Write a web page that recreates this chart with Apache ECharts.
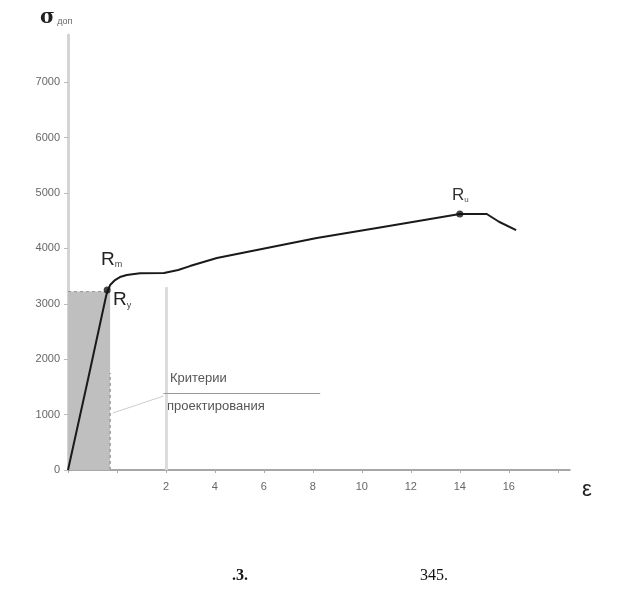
<!DOCTYPE html>
<html><head><meta charset="utf-8">
<script src="https://cdn.jsdelivr.net/npm/echarts@6/dist/echarts.min.js"></script>
<style>html,body{margin:0;padding:0;background:#fff}#c{width:627px;height:590px}</style>
</head><body><div id="c"></div>
<script>
const strain = [0, 0.4, 0.78, 0.82, 0.86, 0.96, 1.06, 1.2, 1.47, 1.96, 2.5, 2.98, 4.08, 6.12, 8.16, 10.86, 14.0, 15.1, 15.6, 16.3];
const stress = [0, 1600, 3150, 3250, 3338, 3428, 3482, 3518, 3550, 3555, 3610, 3680, 3825, 4005, 4185, 4384, 4620, 4620, 4480, 4330];
const yTicks = [0, 1000, 2000, 3000, 4000, 5000, 6000, 7000];
const xTickLabels = [2, 4, 6, 8, 10, 12, 14, 16];
const keyPoints = [
  {name: 'Ry', e: 0.8, s: 3250},
  {name: 'Ru', e: 14.0, s: 4620}
];
const shadeStrain = 0.86, shadeStress = 3220;
const criterionStrain = 2, criterionStress = 3300;

// broken-scale axis: 0..2 % drawn at double scale, beyond that 2 % per unit
function toPos(e) { return e <= 2 ? e : 2 + (e - 2) / 2; }
function posLabel(v) { const e = v <= 2 ? v : 2 + (v - 2) * 2; return xTickLabels.indexOf(Math.round(e)) >= 0 && Math.abs(e - Math.round(e)) < 1e-6 ? String(Math.round(e)) : ''; }

const curve = strain.map((e, i) => [toPos(e), stress[i]]);
const F = 'Liberation Sans, Arial, sans-serif';

const chart = echarts.init(document.getElementById('c'));
chart.setOption({
  animation: false,
  grid: {left: 68, top: 35, width: 502, height: 435},
  xAxis: {
    type: 'value', min: 0, max: 10.25, interval: 1,
    axisLine: {lineStyle: {color: '#8a8a8a', width: 1.5}},
    axisTick: {show: true, length: 3, lineStyle: {color: '#aaa'}},
    axisLabel: {formatter: posLabel, color: '#666', fontSize: 11, fontFamily: F, margin: 11, showMaxLabel: false},
    splitLine: {show: false}
  },
  yAxis: {
    type: 'value', min: 0, max: 7850, interval: 1000,
    axisLine: {show: true, lineStyle: {color: '#d4d4d4', width: 3}},
    axisTick: {show: true, length: 4, lineStyle: {color: '#bbb'}},
    axisLabel: {color: '#666', fontSize: 11, fontFamily: F, margin: 8, showMaxLabel: false,
      formatter: v => yTicks.indexOf(v) >= 0 ? String(v) : ''},
    splitLine: {show: false}
  },
  series: [
    {
      type: 'line', data: curve, symbol: 'none', smooth: false, z: 5,
      lineStyle: {color: '#1a1a1a', width: 2, join: 'round'},
      markArea: {silent: true, itemStyle: {color: '#bfbfbf'},
        data: [[{coord: [0, 0]}, {coord: [toPos(shadeStrain), shadeStress]}]]},
      markLine: {silent: true, symbol: 'none', label: {show: false},
        data: [
          [{coord: [toPos(criterionStrain), 0], lineStyle: {color: '#dcdcdc', width: 3, type: 'solid'}}, {coord: [toPos(criterionStrain), criterionStress]}],
          [{coord: [toPos(shadeStrain), 0], lineStyle: {color: '#aaa', width: 2, type: [3, 3]}}, {coord: [toPos(shadeStrain), 1750]}],
          [{coord: [0, shadeStress], lineStyle: {color: '#999', width: 1, type: [3, 3]}}, {coord: [toPos(0.8), shadeStress]}],
          [{coord: [toPos(0.92), 1030], lineStyle: {color: '#ccc', width: 1, type: 'solid'}}, {coord: [toPos(1.95), 1335]}],
          [{coord: [toPos(1.95), 1390], lineStyle: {color: '#999', width: 1, type: 'solid'}}, {coord: [toPos(8.3), 1390]}]
        ]}
    },
    {
      type: 'scatter', z: 6, symbolSize: 7, itemStyle: {color: '#111'},
      data: keyPoints.map(p => ({name: p.name, value: [toPos(p.e), p.s]}))
    }
  ],
  graphic: [
    {type: 'text', left: 40, top: 8, style: {text: '{a|σ}{b| доп}', rich: {a: {fontSize: 20, fontFamily: 'DejaVu Serif', fontWeight: 'bold', fill: '#222'}, b: {fontSize: 9, fill: '#666', fontFamily: F, padding: [8, 0, 0, 0]}}}},
    {type: 'text', left: 101, top: 250, style: {text: '{a|R}{b|m}', rich: {a: {fontSize: 19, fontFamily: F, fill: '#222'}, b: {fontSize: 9, fill: '#444', fontFamily: F, padding: [10, 0, 0, 0]}}}},
    {type: 'text', left: 113, top: 290, style: {text: '{a|R}{b|y}', rich: {a: {fontSize: 19, fontFamily: F, fill: '#222'}, b: {fontSize: 9, fill: '#444', fontFamily: F, padding: [12, 0, 0, 0]}}}},
    {type: 'text', left: 452, top: 187, style: {text: '{a|R}{b|u}', rich: {a: {fontSize: 17, fontFamily: F, fill: '#333'}, b: {fontSize: 8, fill: '#555', fontFamily: F, padding: [9, 0, 0, 0]}}}},
    {type: 'text', left: 170, top: 372, style: {text: 'Критерии', fontSize: 13, fontFamily: F, fill: '#555'}},
    {type: 'text', left: 167, top: 400, style: {text: 'проектирования', fontSize: 13, fontFamily: F, fill: '#555'}},
    {type: 'text', left: 582, top: 479, style: {text: 'ε', fontSize: 22, fontFamily: F, fill: '#222'}},
    {type: 'text', left: 232, top: 568, style: {text: '.3.', fontSize: 16, fontWeight: 'bold', fontFamily: 'Liberation Serif', fill: '#111'}},
    {type: 'text', left: 420, top: 568, style: {text: '345.', fontSize: 16, fontFamily: 'Liberation Serif', fill: '#111'}}
  ]
});
</script></body></html>
